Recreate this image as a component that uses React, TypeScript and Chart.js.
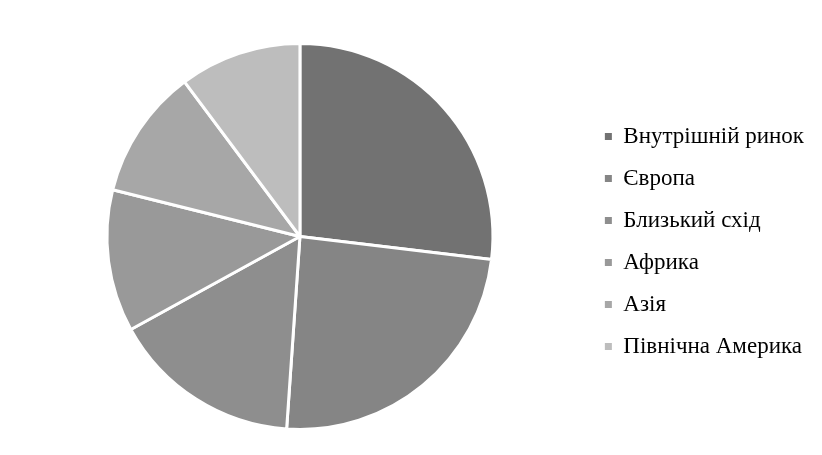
import React, { useEffect, useRef } from "react";
import { Chart, registerables } from "chart.js";

Chart.register(...registerables);

const categories = [
  "Внутрішній ринок",
  "Європа",
  "Близький схід",
  "Африка",
  "Азія",
  "Північна Америка",
];
const shares = [26.9, 24.2, 15.9, 11.9, 10.9, 10.2];
const sliceColors = ["#727272", "#858585", "#8e8e8e", "#999999", "#a7a7a7", "#bdbdbd"];

const FONT = "'Liberation Serif', 'Times New Roman', serif";

export default function App() {
  const ref = useRef<HTMLCanvasElement | null>(null);
  useEffect(() => {
    let chart: Chart | null = null;
    let cancelled = false;
    const build = () => {
      if (cancelled || !ref.current) return;
      chart = new Chart(ref.current, {
        type: "pie",
        data: {
          labels: categories,
          datasets: [
            {
              data: shares,
              backgroundColor: sliceColors,
              borderColor: "#ffffff",
              borderWidth: 3,
            },
          ],
        },
        options: {
          animation: false,
          responsive: false,
          maintainAspectRatio: false,
          layout: { padding: { left: 14, right: 8, top: 42, bottom: 24 } },
          plugins: {
            tooltip: { enabled: false },
            legend: {
              position: "right",
              title: {
                display: true,
                text: " ",
                font: { size: 1 },
                padding: { top: 0, bottom: 8.8 },
              },
              labels: {
                boxWidth: 7,
                boxHeight: 7,
                padding: 19,
                color: "#000000",
                font: { family: FONT, size: 23 },
                generateLabels: (c: any) => {
                  const items = Chart.overrides.pie.plugins.legend.labels.generateLabels(c);
                  return items.map((it: any) => ({ ...it, lineWidth: 0, strokeStyle: it.fillStyle }));
                },
              },
            },
          },
        },
      });
    };
    const fonts = (document as any).fonts;
    if (fonts && fonts.load) {
      fonts.load("23px 'Liberation Serif'").then(build, build);
    } else {
      build();
    }
    return () => {
      cancelled = true;
      if (chart) chart.destroy();
    };
  }, []);
  return (
    <div style={{ position: "fixed", left: 0, top: 0, width: 822, height: 455, background: "#fff" }}>
      <canvas ref={ref} width={822} height={455} style={{ width: 822, height: 455 }} />
    </div>
  );
}
